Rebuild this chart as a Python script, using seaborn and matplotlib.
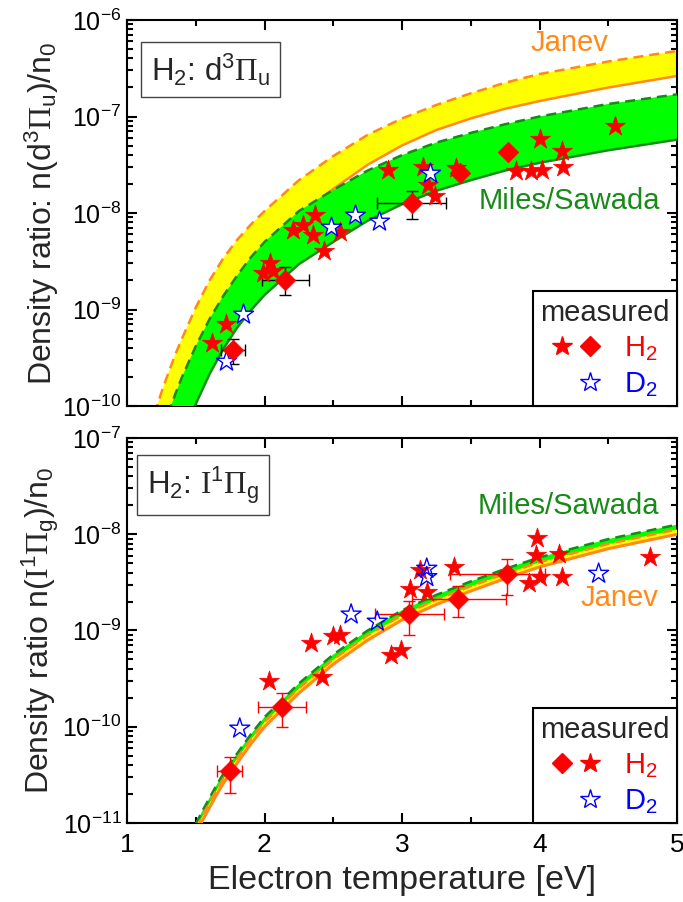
import numpy as np
import pandas as pd
import matplotlib
matplotlib.use("Agg")
import matplotlib.pyplot as plt
import seaborn as sns
from matplotlib.ticker import LogLocator, NullFormatter, MultipleLocator
from matplotlib.legend_handler import HandlerTuple
from matplotlib.lines import Line2D

# ---------------- data ----------------
# Top panel: d3Pi_u model curves, log10(n/n0)
te_top_janev_hi = [1.20, 1.25, 1.30, 1.35, 1.40, 1.50, 1.60, 1.70, 1.80, 1.90, 2.00, 2.25, 2.50, 2.75, 3.00, 3.25, 3.50, 3.75, 4.00, 4.50, 5.00]
lg_top_janev_hi = [-10.08, -9.86, -9.66, -9.47, -9.30, -8.98, -8.70, -8.47, -8.28, -8.12, -7.98, -7.66, -7.41, -7.19, -7.02, -6.88, -6.76, -6.65, -6.56, -6.43, -6.32]
te_top_janev_lo = [1.30, 1.35, 1.40, 1.50, 1.60, 1.70, 1.80, 1.90, 2.00, 2.25, 2.50, 2.75, 3.00, 3.25, 3.50, 3.75, 4.00, 4.50, 5.00]
lg_top_janev_lo = [-10.20, -9.98, -9.78, -9.43, -9.14, -8.90, -8.70, -8.53, -8.38, -8.03, -7.75, -7.50, -7.30, -7.14, -7.02, -6.92, -6.84, -6.70, -6.58]
te_top_miles_hi = [1.30, 1.35, 1.40, 1.50, 1.60, 1.70, 1.80, 1.90, 2.00, 2.25, 2.50, 2.75, 3.00, 3.25, 3.50, 3.75, 4.00, 4.50, 5.00]
lg_top_miles_hi = [-10.08, -9.88, -9.70, -9.38, -9.10, -8.86, -8.65, -8.46, -8.30, -7.98, -7.76, -7.56, -7.40, -7.27, -7.17, -7.08, -7.00, -6.87, -6.77]
te_top_miles_lo = [1.45, 1.50, 1.60, 1.70, 1.80, 1.90, 2.00, 2.25, 2.50, 2.75, 3.00, 3.25, 3.50, 3.75, 4.00, 4.50, 5.00]
lg_top_miles_lo = [-10.16, -9.98, -9.67, -9.41, -9.19, -9.01, -8.85, -8.53, -8.30, -8.08, -7.91, -7.77, -7.66, -7.56, -7.48, -7.35, -7.24]

# Top panel measurements
te_top_h2_star = [1.62, 1.72, 1.99, 2.04, 2.06, 2.21, 2.28, 2.37, 2.355, 2.43, 2.55, 2.90, 3.15, 3.19, 3.24, 3.39, 3.83, 3.94, 4.00, 4.02, 4.16, 4.17, 4.55]
n_top_h2_star = [4.5e-10, 7.0e-10, 2.4e-9, 3.0e-9, 2.5e-9, 6.6e-9, 7.6e-9, 9.5e-9, 5.9e-9, 4.0e-9, 6.4e-9, 2.8e-8, 3.0e-8, 1.95e-8, 1.5e-8, 2.9e-8, 2.7e-8, 2.75e-8, 5.9e-8, 2.8e-8, 4.4e-8, 3.0e-8, 8.0e-8]
te_top_d2 = [1.72, 1.84, 2.48, 2.66, 2.83, 3.20]
n_top_d2 = [2.9e-10, 9.0e-10, 7.2e-9, 9.5e-9, 8.2e-9, 2.6e-8]
te_top_h2_diam = [1.77, 2.15, 3.07, 3.42, 3.77]
n_top_h2_diam = [3.8e-10, 2.0e-9, 1.26e-8, 2.6e-8, 4.3e-8]
te_top_err_lo = [1.68, 1.98, 2.82, np.nan, np.nan]
te_top_err_hi = [1.86, 2.32, 3.32, np.nan, np.nan]
n_top_err_lo = [2.75e-10, 1.41e-9, 8.7e-9, np.nan, np.nan]
n_top_err_hi = [5.0e-10, 2.78e-9, 1.70e-8, np.nan, np.nan]

# Bottom panel: I1Pi_g model curves, log10(n/n0)
te_bot = [1.50, 1.55, 1.60, 1.65, 1.70, 1.75, 1.80, 1.90, 2.00, 2.25, 2.50, 2.75, 3.00, 3.25, 3.50, 3.75, 4.00, 4.50, 5.00]
lg_bot_miles_hi = [-11.01, -10.87, -10.74, -10.61, -10.49, -10.38, -10.28, -10.08, -9.90, -9.55, -9.25, -9.00, -8.79, -8.63, -8.49, -8.36, -8.24, -8.05, -7.90]
lg_bot_miles_lo = [-11.07, -10.93, -10.80, -10.67, -10.55, -10.44, -10.34, -10.14, -9.96, -9.61, -9.31, -9.06, -8.85, -8.69, -8.55, -8.42, -8.30, -8.11, -7.96]
lg_bot_janev_hi = [-11.06, -10.92, -10.79, -10.66, -10.54, -10.43, -10.33, -10.13, -9.95, -9.60, -9.30, -9.05, -8.84, -8.68, -8.54, -8.41, -8.29, -8.10, -7.95]
lg_bot_janev_lo = [-11.11, -10.97, -10.84, -10.71, -10.59, -10.48, -10.38, -10.18, -10.00, -9.65, -9.35, -9.10, -8.89, -8.73, -8.59, -8.46, -8.34, -8.15, -8.00]

# Bottom panel measurements
te_bot_h2_star = [2.03, 2.34, 2.42, 2.50, 2.55, 2.92, 2.99, 3.06, 3.13, 3.18, 3.38, 3.92, 3.975, 3.98, 4.00, 4.14, 4.16, 4.80]
n_bot_h2_star = [3.0e-10, 7.4e-10, 3.3e-10, 8.7e-10, 9.0e-10, 5.6e-10, 6.3e-10, 2.7e-9, 4.3e-9, 2.5e-9, 4.6e-9, 3.1e-9, 6.1e-9, 9.1e-9, 3.6e-9, 6.3e-9, 3.6e-9, 5.8e-9]
te_bot_d2 = [1.82, 2.63, 2.82, 3.18, 3.18, 4.43]
n_bot_d2 = [9.6e-11, 1.47e-9, 1.24e-9, 4.4e-9, 3.6e-9, 3.9e-9]
te_bot_h2_diam = [1.75, 2.13, 3.05, 3.41, 3.76]
n_bot_h2_diam = [3.5e-11, 1.62e-10, 1.47e-9, 2.1e-9, 3.9e-9]
te_bot_err_lo = [1.657, 1.955, 2.80, 3.07, 3.35]
te_bot_err_hi = [1.839, 2.30, 3.305, 3.756, 4.04]
n_bot_err_lo = [2.04e-11, 1.0e-10, 8.97e-10, 1.39e-9, 2.34e-9]
n_bot_err_hi = [4.9e-11, 2.26e-10, 2.04e-9, 2.92e-9, 5.5e-9]

x_ticks = [1, 2, 3, 4, 5]
y_ticks_top = [1e-10, 1e-9, 1e-8, 1e-7, 1e-6]
y_ticks_bot = [1e-11, 1e-10, 1e-9, 1e-8, 1e-7]

# ---------------- style ----------------
sns.set_theme(style="ticks")
plt.rcParams["font.family"] = ["Liberation Sans", "DejaVu Sans"]
plt.rcParams["mathtext.fontset"] = "custom"
plt.rcParams["mathtext.rm"] = "Liberation Sans"
plt.rcParams["mathtext.it"] = "Liberation Sans:italic"
plt.rcParams["mathtext.bf"] = "Liberation Sans:bold"
plt.rcParams["mathtext.cal"] = "Liberation Serif"
plt.rcParams["axes.linewidth"] = 1.5

ORANGE = "#FF8A1A"
DKGREEN = "#178A17"
YELLOW = "#FFFF00"
LIME = "#00FF00"

fig = plt.figure(figsize=(6.83, 9.02), dpi=100)
ax1 = fig.add_axes([127 / 683, 1 - 406 / 902, 550 / 683, 386 / 902])
ax2 = fig.add_axes([127 / 683, 1 - 823 / 902, 550 / 683, 385 / 902])

def pw(v):
    return 10.0 ** np.asarray(v)

def band(ax, te_hi, lg_hi, te_lo, lg_lo, color, z):
    xs = np.r_[np.asarray(te_hi), np.asarray(te_lo)[::-1]]
    ys = np.r_[pw(lg_hi), pw(lg_lo)[::-1]]
    ax.fill(xs, ys, color=color, lw=0, zorder=z)

def line(ax, te, lg, color, dashed, z, lw=1.8):
    ls = (0, (4, 2.4)) if dashed else "-"
    sns.lineplot(x=te, y=pw(lg), ax=ax, color=color, linestyle=ls, linewidth=lw,
                 zorder=z, estimator=None, sort=False)

# ---- top panel ----
band(ax1, te_top_janev_hi, lg_top_janev_hi, te_top_janev_lo, lg_top_janev_lo, YELLOW, 1)
line(ax1, te_top_janev_hi, lg_top_janev_hi, ORANGE, True, 2)
line(ax1, te_top_janev_lo, lg_top_janev_lo, ORANGE, False, 2)
band(ax1, te_top_miles_hi, lg_top_miles_hi, te_top_miles_lo, lg_top_miles_lo, LIME, 3)
line(ax1, te_top_miles_hi, lg_top_miles_hi, DKGREEN, True, 4)
line(ax1, te_top_miles_lo, lg_top_miles_lo, DKGREEN, False, 4)

xe_lo = np.array(te_top_h2_diam) - np.array(te_top_err_lo)
xe_hi = np.array(te_top_err_hi) - np.array(te_top_h2_diam)
ye_lo = np.array(n_top_h2_diam) - np.array(n_top_err_lo)
ye_hi = np.array(n_top_err_hi) - np.array(n_top_h2_diam)
ax1.errorbar(te_top_h2_diam, n_top_h2_diam, xerr=[xe_lo, xe_hi], yerr=[ye_lo, ye_hi],
             fmt="none", ecolor="black", elinewidth=1.0, capsize=4, capthick=1.0, zorder=5)
sns.scatterplot(x=te_top_h2_star, y=n_top_h2_star, ax=ax1, marker="*", s=230,
                color="red", edgecolor="red", linewidth=0.5, zorder=6)
sns.scatterplot(x=te_top_d2, y=n_top_d2, ax=ax1, marker="*", s=230,
                facecolor="white", edgecolor="blue", linewidth=1.0, zorder=6)
sns.scatterplot(x=te_top_h2_diam, y=n_top_h2_diam, ax=ax1, marker="D", s=110,
                color="red", edgecolor="red", linewidth=0.5, zorder=7)

# ---- bottom panel ----
band(ax2, te_bot, lg_bot_miles_hi, te_bot, lg_bot_miles_lo, LIME, 1)
line(ax2, te_bot, lg_bot_miles_lo, DKGREEN, False, 2, lw=1.2)
band(ax2, te_bot, lg_bot_janev_hi, te_bot, lg_bot_janev_lo, YELLOW, 3)
line(ax2, te_bot, lg_bot_miles_hi, DKGREEN, True, 4)
line(ax2, te_bot, lg_bot_janev_hi, ORANGE, True, 4)
line(ax2, te_bot, lg_bot_janev_lo, ORANGE, False, 4, lw=2.2)

xe_lo = np.array(te_bot_h2_diam) - np.array(te_bot_err_lo)
xe_hi = np.array(te_bot_err_hi) - np.array(te_bot_h2_diam)
ye_lo = np.array(n_bot_h2_diam) - np.array(n_bot_err_lo)
ye_hi = np.array(n_bot_err_hi) - np.array(n_bot_h2_diam)
ax2.errorbar(te_bot_h2_diam, n_bot_h2_diam, xerr=[xe_lo, xe_hi], yerr=[ye_lo, ye_hi],
             fmt="none", ecolor="red", elinewidth=1.0, capsize=4, capthick=1.0, zorder=5)
sns.scatterplot(x=te_bot_h2_star, y=n_bot_h2_star, ax=ax2, marker="*", s=230,
                color="red", edgecolor="red", linewidth=0.5, zorder=6)
sns.scatterplot(x=te_bot_d2, y=n_bot_d2, ax=ax2, marker="*", s=230,
                facecolor="none", edgecolor="blue", linewidth=1.0, zorder=6)
sns.scatterplot(x=te_bot_h2_diam, y=n_bot_h2_diam, ax=ax2, marker="D", s=110,
                color="red", edgecolor="red", linewidth=0.5, zorder=7)

# ---- axes formatting ----
for ax, ylim, yt in ((ax1, (1e-10, 1e-6), y_ticks_top), (ax2, (1e-11, 1e-7), y_ticks_bot)):
    ax.set_yscale("log")
    ax.set_xlim(1, 5)
    ax.set_ylim(*ylim)
    ax.set_xticks(x_ticks)
    ax.set_yticks(yt)
    ax.xaxis.set_minor_locator(MultipleLocator(0.5))
    ax.yaxis.set_minor_locator(LogLocator(base=10, subs=np.arange(2, 10), numticks=20))
    ax.yaxis.set_minor_formatter(NullFormatter())
    ax.set_ylim(*ylim)
    ax.tick_params(which="both", direction="in", top=True, right=True, width=1.5,
                   colors="black")
    ax.tick_params(axis="y", labelsize=18, pad=4)
    ax.tick_params(axis="x", labelsize=19, pad=7)
    ax.tick_params(which="major", length=7)
    ax.tick_params(axis="x", which="minor", length=4)
    ax.tick_params(axis="y", which="minor", length=4.5)
    for sp in ax.spines.values():
        sp.set_visible(True)
        sp.set_linewidth(1.5)
        sp.set_color("black")
    ax.set_xlabel("")
    ax.set_ylabel("")

ax1.tick_params(axis="x", labelbottom=False)
ax2.set_xlabel("Electron temperature [eV]", fontsize=24.5)
ax2.xaxis.set_label_coords(0.5, -0.108)

ax1.set_ylabel(r"Density ratio: n(d$^\mathrm{3}\mathcal{\Pi}_\mathrm{u}$)/n$_\mathrm{0}$", fontsize=23)
ax2.set_ylabel(r"Density ratio n($\mathcal{I}^\mathrm{1}\mathcal{\Pi}_\mathrm{g}$)/n$_\mathrm{0}$", fontsize=23)
ax1.yaxis.set_label_coords(-0.12, 0.5)
ax2.yaxis.set_label_coords(-0.12, 0.5)

# annotations
ax1.text(0.805, 0.94, "Janev", transform=ax1.transAxes, color=ORANGE, fontsize=21,
         ha="center", va="center", zorder=10)
ax1.text(0.805, 0.531, "Miles/Sawada", transform=ax1.transAxes, color=DKGREEN, fontsize=21,
         ha="center", va="center", zorder=10)
ax2.text(0.802, 0.823, "Miles/Sawada", transform=ax2.transAxes, color=DKGREEN, fontsize=21,
         ha="center", va="center", zorder=10)
ax2.text(0.895, 0.584, "Janev", transform=ax2.transAxes, color=ORANGE, fontsize=21,
         ha="center", va="center", zorder=10)

box = dict(boxstyle="square,pad=0.3", fc="white", ec="#444444", lw=1.0)
ax1.text(0.043, 0.871, r"H$_\mathrm{2}$: d$^\mathrm{3}\mathcal{\Pi}_\mathrm{u}$", transform=ax1.transAxes,
         fontsize=22.5, ha="left", va="center", bbox=box, zorder=10)
ax2.text(0.036, 0.878, r"H$_\mathrm{2}$: $\mathcal{I}^\mathrm{1}\mathcal{\Pi}_\mathrm{g}$", transform=ax2.transAxes,
         fontsize=22.5, ha="left", va="center", bbox=box, zorder=10)

# legends
def make_legend(ax, order):
    h_star = Line2D([], [], marker="*", color="red", ls="", ms=15)
    h_diam = Line2D([], [], marker="D", color="red", ls="", ms=10)
    h_blank = Line2D([], [], ls="", marker="")
    h_d2 = Line2D([], [], marker="*", mfc="white", mec="blue", ls="", ms=15, mew=1.0)
    first = (h_star, h_diam) if order == "sd" else (h_diam, h_star)
    leg = ax.legend([first, (h_blank, h_d2)], [r"H$_\mathrm{2}$", r"D$_\mathrm{2}$"],
                    title="measured", loc="lower right", borderaxespad=0,
                    handler_map={tuple: HandlerTuple(ndivide=None, pad=0.3)},
                    fontsize=21, title_fontsize=21, handlelength=1.6, handletextpad=0.85,
                    borderpad=0.25, labelspacing=0.25, fancybox=False, framealpha=1,
                    edgecolor="black")
    leg.get_frame().set_linewidth(1.5)
    leg.get_texts()[0].set_color("red")
    leg.get_texts()[1].set_color("blue")
    leg.set_zorder(20)

make_legend(ax1, "sd")
make_legend(ax2, "ds")

fig.savefig("out.png", dpi=100)
